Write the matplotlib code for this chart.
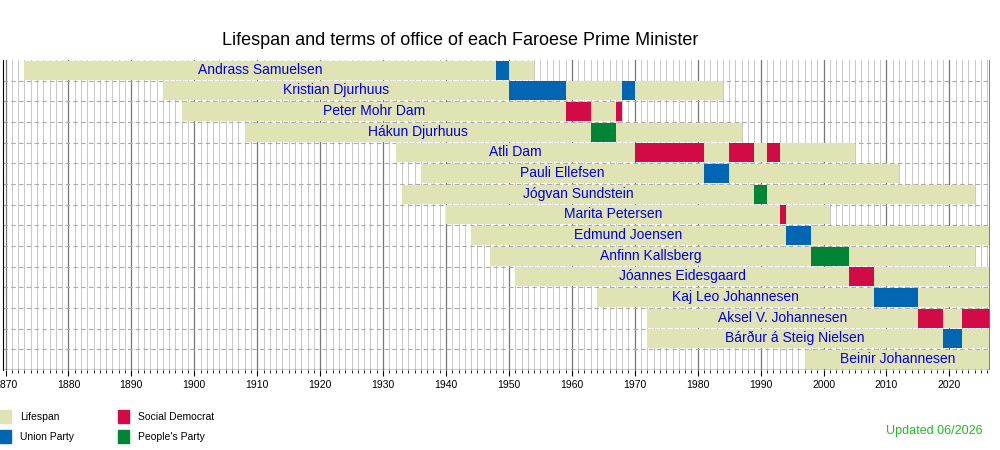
import matplotlib.pyplot as plt
from matplotlib.patches import Rectangle

plt.rcParams['font.family'] = ['Liberation Sans', 'DejaVu Sans']

names = ['Andrass Samuelsen', 'Kristian Djurhuus', 'Peter Mohr Dam', 'Hákun Djurhuus',
         'Atli Dam', 'Pauli Ellefsen', 'Jógvan Sundstein', 'Marita Petersen',
         'Edmund Joensen', 'Anfinn Kallsberg', 'Jóannes Eidesgaard', 'Kaj Leo Johannesen',
         'Aksel V. Johannesen', 'Bárður á Steig Nielsen', 'Beinir Johannesen']
born = [1873, 1895, 1898, 1908, 1932, 1936, 1933, 1940, 1944, 1947, 1951, 1964, 1972, 1972, 1997]
died = [1954, 1984, 1968, 1987, 2005, 2012, 2024, 2001, None, 2024, None, None, None, None, None]
# (start, end, party) for each term
terms = [
    [(1948, 1950, 'U')],
    [(1950, 1959, 'U'), (1968, 1970, 'U')],
    [(1959, 1963, 'S'), (1967, 1968, 'S')],
    [(1963, 1967, 'P')],
    [(1970, 1981, 'S'), (1985, 1989, 'S'), (1991, 1993, 'S')],
    [(1981, 1985, 'U')],
    [(1989, 1991, 'P')],
    [(1993, 1994, 'S')],
    [(1994, 1998, 'U')],
    [(1998, 2004, 'P')],
    [(2004, 2008, 'S')],
    [(2008, 2015, 'U')],
    [(2015, 2019, 'S'), (2022, None, 'S')],
    [(2019, 2022, 'U')],
    [],
]
now = 2026.45
party_col = {'U': '#0066b3', 'S': '#d20a46', 'P': '#008537'}
life_col = '#e0e4b4'

fig = plt.figure(figsize=(10, 4.5), dpi=100)
ax = fig.add_axes([0.003, 0.178, 0.987, 0.689])
ax.set_xlim(1869.6, now)
n = len(names)
ax.set_ylim(n, 0)

for yr in range(1870, 2027):
    major = yr % 10 == 0
    ax.axvline(yr, color='#777777' if major else '#c8c8c8', lw=0.9 if major else 0.7, zorder=0)
for i in range(1, n):
    ax.axhline(i, color='#aaaaaa', lw=0.8, ls=(0, (4, 3)), zorder=0.5)

h = 0.92
for i, name in enumerate(names):
    end = died[i] if died[i] is not None else now
    ax.add_patch(Rectangle((born[i], i + (1 - h) / 2), end - born[i], h, color=life_col, lw=0, zorder=1))
    for s, e, p in terms[i]:
        e = now if e is None else e
        ax.add_patch(Rectangle((s, i + (1 - h) / 2), e - s, h, color=party_col[p], lw=0, zorder=2))
    # label sits in the part of the lifespan before the first term
    lab_end = terms[i][0][0] if terms[i] else end
    ax.text((born[i] + lab_end) / 2, i + 0.47, name, color='#0000dd', fontsize=10,
            ha='center', va='center', zorder=3)

ax.axvline(now, color='#00bb00', lw=1.2, zorder=4)
for s in ['top', 'right', 'bottom']:
    ax.spines[s].set_visible(False)
ax.spines['left'].set_color('black')
ax.axhline(n, color='black', lw=1, zorder=4)
ax.set_yticks([])
ax.set_xticks(range(1870, 2030, 10))
ax.set_xticks(range(1870, 2027), minor=True)
ax.tick_params(axis='x', labelsize=7.5, length=4, direction='out', pad=3)
ax.tick_params(axis='x', which='minor', length=2, direction='out')

fig.text(0.46, 0.91, 'Lifespan and terms of office of each Faroese Prime Minister',
         fontsize=13, ha='center', va='center')

legend = [('Lifespan', life_col, 0.0, 0.073), ('Union Party', party_col['U'], 0.0, 0.030),
          ('Social Democrat', party_col['S'], 0.118, 0.073), ("People's Party", party_col['P'], 0.118, 0.030)]
for lab, col, lx, ly in legend:
    fig.patches.append(Rectangle((lx, ly - 0.014), 0.011, 0.029, color=col, transform=fig.transFigure))
    fig.text(lx + 0.02, ly, lab, fontsize=7.5, va='center')

fig.text(0.983, 0.042, 'Updated 06/2026', color='#22bb22', fontsize=9, ha='right', va='center')

fig.savefig('out.png', dpi=100)
